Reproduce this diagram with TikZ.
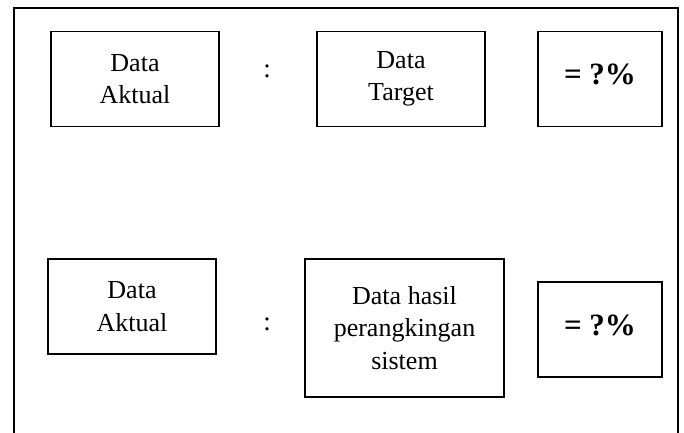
\documentclass[tikz,border=0pt]{standalone}
\usepackage{fontspec}
\setmainfont{Liberation Serif}
\begin{document}
\begin{tikzpicture}[x=1pt,y=-1pt,
  box/.style={draw, line width=1.6pt, inner sep=0pt, align=center,
    font=\fontsize{26}{32.5}\selectfont},
  pct/.style={box, font=\fontsize{31}{36}\selectfont\bfseries},
  sep/.style={inner sep=0pt, font=\fontsize{27}{32.5}\selectfont}]
\useasboundingbox (0,0) rectangle (684,432);
\fill[white] (0,0) rectangle (684,432);
\draw[line width=1.8pt] (14,440) -- (14,8) -- (678,8) -- (678,440);
% top row
\node[box, minimum width=168pt, minimum height=95pt] (a1) at (135,79) {Data\\Aktual};
\node[sep] (c1) at (267,71.5) {:};
\node[box, minimum width=168pt, minimum height=95pt] (t1) at (401,79) {Data\\Target};
\node[pct, minimum width=124pt, minimum height=95pt] (p1) at (600,79) {\raisebox{9pt}{= ?\%}};
% bottom row
\node[box, minimum width=168pt, minimum height=95pt] (a2) at (132,306.5) {Data\\Aktual};
\node[sep] (c2) at (267,324) {:};
\node[box, minimum width=199pt, minimum height=138pt] (s2) at (404.5,328) {Data hasil\\perangkingan\\sistem};
\node[pct, minimum width=124pt, minimum height=95pt] (p2) at (600,329.5) {\raisebox{8pt}{= ?\%}};
\end{tikzpicture}
\end{document}
